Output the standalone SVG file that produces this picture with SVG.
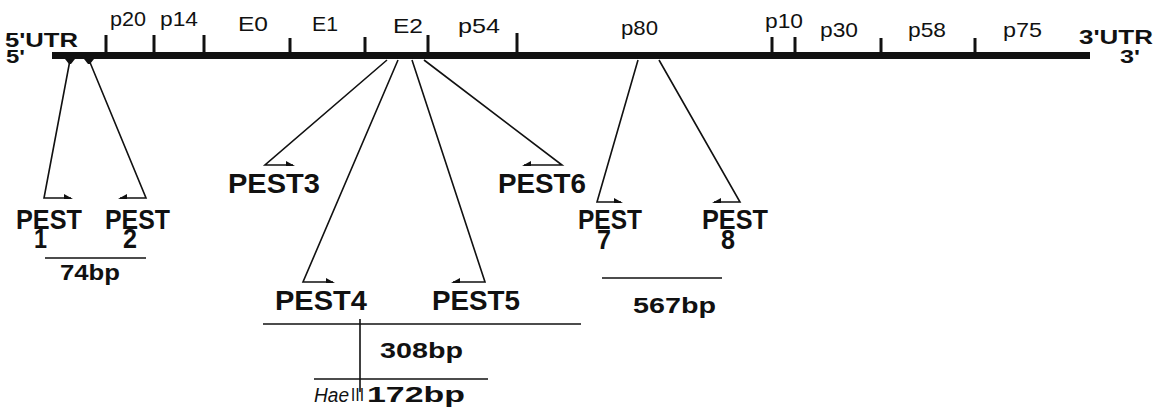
<svg xmlns="http://www.w3.org/2000/svg" width="1161" height="414" viewBox="0 0 1161 414">
  <defs>
    <style>
      .lbl { font-family: "Liberation Sans", Arial, sans-serif; font-size: 21px; fill: #111; }
      .bold { font-family: "Liberation Sans", Arial, sans-serif; font-weight: bold; fill: #111; }
      .pest { font-family: "Liberation Sans", Arial, sans-serif; font-weight: bold; font-size: 28px; fill: #111; }
      .num { font-family: "Liberation Sans", Arial, sans-serif; font-weight: bold; font-size: 22px; fill: #111; }
      .conn { stroke: #111; stroke-width: 1.6; fill: none; }
      .tick { stroke: #111; stroke-width: 3; }
      .scale { stroke: #111; stroke-width: 1.6; }
      .head { fill: #111; }
    </style>
  </defs>
  <rect width="1161" height="414" fill="#fff"/>

  <!-- genome backbone with gene boundaries -->
  <g id="backbone">
    <rect x="52" y="52" width="1038" height="7" fill="#111"/>
    <line class="tick" x1="106" y1="35" x2="106" y2="52"/>
    <line class="tick" x1="154" y1="35" x2="154" y2="52"/>
    <line class="tick" x1="204" y1="35" x2="204" y2="52"/>
    <line class="tick" x1="290" y1="38" x2="290" y2="52"/>
    <line class="tick" x1="365" y1="37" x2="365" y2="52"/>
    <line class="tick" x1="428" y1="35" x2="428" y2="52"/>
    <line class="tick" x1="517" y1="33" x2="517" y2="52"/>
    <line class="tick" x1="772" y1="37" x2="772" y2="52"/>
    <line class="tick" x1="795" y1="37" x2="795" y2="52"/>
    <line class="tick" x1="881" y1="38" x2="881" y2="52"/>
    <line class="tick" x1="975" y1="38" x2="975" y2="52"/>
    <polygon class="head" points="65,59 75,59 71,64 69,64"/>
    <polygon class="head" points="84,59 94,59 90,64 88,64"/>
  </g>

  <!-- gene labels -->
  <g id="gene-labels">
    <text class="lbl" x="110" y="26" textLength="36" lengthAdjust="spacingAndGlyphs">p20</text>
    <text class="lbl" x="160" y="26" textLength="38" lengthAdjust="spacingAndGlyphs">p14</text>
    <text class="lbl" x="238" y="31" textLength="30" lengthAdjust="spacingAndGlyphs">E0</text>
    <text class="lbl" x="312" y="31" textLength="26" lengthAdjust="spacingAndGlyphs">E1</text>
    <text class="lbl" x="393" y="33" textLength="30" lengthAdjust="spacingAndGlyphs">E2</text>
    <text class="lbl" x="458" y="33" textLength="42" lengthAdjust="spacingAndGlyphs">p54</text>
    <text class="lbl" x="621" y="35" textLength="37" lengthAdjust="spacingAndGlyphs">p80</text>
    <text class="lbl" x="765" y="28" textLength="38" lengthAdjust="spacingAndGlyphs">p10</text>
    <text class="lbl" x="820" y="37" textLength="38" lengthAdjust="spacingAndGlyphs">p30</text>
    <text class="lbl" x="908" y="37" textLength="38" lengthAdjust="spacingAndGlyphs">p58</text>
    <text class="lbl" x="1003" y="37" textLength="39" lengthAdjust="spacingAndGlyphs">p75</text>
    <text class="bold" x="5" y="47" font-size="21" textLength="73" lengthAdjust="spacingAndGlyphs">5'UTR</text>
    <text class="bold" x="6" y="63" font-size="19" textLength="19" lengthAdjust="spacingAndGlyphs">5'</text>
    <text class="bold" x="1079" y="44" font-size="21" textLength="74" lengthAdjust="spacingAndGlyphs">3'UTR</text>
    <text class="bold" x="1120" y="63" font-size="19" textLength="20" lengthAdjust="spacingAndGlyphs">3'</text>
  </g>

  <!-- connectors from backbone to PEST motifs -->
  <g id="connectors">
    <polyline class="conn" points="70,60 44,198 71,198"/>
    <polygon class="head" points="73,199 64,194 64,199"/>
    <polyline class="conn" points="89,60 146,198 120,198"/>
    <polygon class="head" points="118,199 127,194 127,199"/>

    <polyline class="conn" points="387,60 265,165 293,165"/>
    <polygon class="head" points="295,166 286,161 286,166"/>
    <polyline class="conn" points="398,60 303,282 333,282"/>
    <polygon class="head" points="335,283 326,278 326,283"/>
    <polyline class="conn" points="412,60 485,282 453,282"/>
    <polygon class="head" points="451,283 460,278 460,283"/>
    <polyline class="conn" points="424,60 562,165 524,165"/>
    <polygon class="head" points="522,166 531,161 531,166"/>

    <polyline class="conn" points="638,60 597,202 621,202"/>
    <polygon class="head" points="623,203 614,198 614,203"/>
    <polyline class="conn" points="659,60 740,202 714,202"/>
    <polygon class="head" points="712,203 721,198 721,203"/>
  </g>

  <g id="pest1">
    <text class="pest" x="16" y="229" font-size="26" textLength="66" lengthAdjust="spacingAndGlyphs">PEST</text>
    <text class="pest" x="34" y="248" font-size="22" textLength="13" lengthAdjust="spacingAndGlyphs">1</text>
  </g>
  <g id="pest2">
    <text class="pest" x="105" y="229" font-size="26" textLength="65" lengthAdjust="spacingAndGlyphs">PEST</text>
    <text class="pest" x="123" y="248" font-size="22" textLength="14" lengthAdjust="spacingAndGlyphs">2</text>
  </g>
  <g id="pest3">
    <text class="pest" x="228" y="193" textLength="92" lengthAdjust="spacingAndGlyphs">PEST3</text>
  </g>
  <g id="pest4">
    <text class="pest" x="275" y="310" textLength="92" lengthAdjust="spacingAndGlyphs">PEST4</text>
  </g>
  <g id="pest5">
    <text class="pest" x="432" y="310" textLength="88" lengthAdjust="spacingAndGlyphs">PEST5</text>
  </g>
  <g id="pest6">
    <text class="pest" x="498" y="193" textLength="88" lengthAdjust="spacingAndGlyphs">PEST6</text>
  </g>
  <g id="pest7">
    <text class="pest" x="578" y="229" font-size="26" textLength="64" lengthAdjust="spacingAndGlyphs">PEST</text>
    <text class="pest" x="597" y="249" font-size="22" textLength="14" lengthAdjust="spacingAndGlyphs">7</text>
  </g>
  <g id="pest8">
    <text class="pest" x="702" y="229" font-size="26" textLength="66" lengthAdjust="spacingAndGlyphs">PEST</text>
    <text class="pest" x="721" y="249" font-size="22" textLength="14" lengthAdjust="spacingAndGlyphs">8</text>
  </g>

  <!-- fragment size bars -->
  <g id="frag-74">
    <line class="scale" x1="45" y1="258" x2="146" y2="258"/>
    <text class="num" x="60" y="280" font-size="21" textLength="60" lengthAdjust="spacingAndGlyphs">74bp</text>
  </g>
  <g id="frag-567">
    <line class="scale" x1="602" y1="278" x2="722" y2="278"/>
    <text class="num" x="633" y="313" font-size="26" textLength="83" lengthAdjust="spacingAndGlyphs">567bp</text>
  </g>
  <g id="frag-308">
    <line class="scale" x1="263" y1="324" x2="581" y2="324"/>
    <line class="scale" x1="360" y1="319" x2="360" y2="392"/>
    <text class="num" x="380" y="358" font-size="22" textLength="83" lengthAdjust="spacingAndGlyphs">308bp</text>
  </g>
  <g id="frag-172">
    <line class="scale" x1="314" y1="379" x2="488" y2="379"/>
    <text x="314" y="402" font-family="'Liberation Sans', Arial, sans-serif" font-style="italic" font-size="20" fill="#111" textLength="35" lengthAdjust="spacingAndGlyphs">Hae</text>
    <text x="350" y="401" font-family="'Noto Sans CJK SC', sans-serif" font-size="17" fill="#111" textLength="15" lengthAdjust="spacingAndGlyphs">Ⅲ</text>
    <text class="num" x="367" y="402" font-size="24" textLength="98" lengthAdjust="spacingAndGlyphs">172bp</text>
  </g>
</svg>
